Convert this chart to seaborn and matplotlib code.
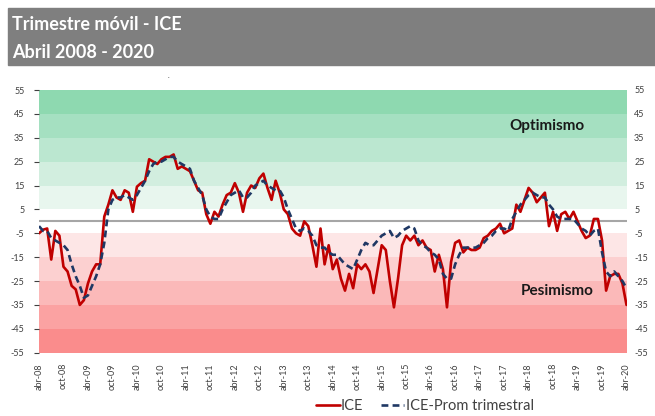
import matplotlib
matplotlib.use("Agg")
import matplotlib.pyplot as plt
from matplotlib.patches import Rectangle
import numpy as np
import pandas as pd
import seaborn as sns

# ---------------- data ----------------
tick_labels = ["abr-08", "oct-08", "abr-09", "oct-09", "abr-10", "oct-10", "abr-11",
               "oct-11", "abr-12", "oct-12", "abr-13", "oct-13", "abr-14", "oct-14",
               "abr-15", "oct-15", "abr-16", "oct-16", "abr-17", "oct-17", "abr-18",
               "oct-18", "abr-19", "oct-19", "abr-20"]

ice = [-5, -3.5, -3, -16, -4, -6, -19, -21, -27, -28.5,
       -35, -33, -26, -21, -18, -18, 2, 7, 13, 10,
       9, 13, 12, 4, 14.5, 16, 17, 26, 25, 24,
       26, 27, 27, 28, 22, 23, 22, 21, 17, 13,
       12, 3, -1, 4, 2, 7, 11, 12, 16, 12,
       4, 12, 15, 14, 18, 20, 14, 9, 17, 12,
       5, 3, -3, -5, -6, 0, -2, -10, -19, -3,
       -18, -10, -20, -16, -24, -29, -22, -28, -18, -20,
       -18, -21, -30, -20, -10, -12, -25, -36, -24, -10,
       -6, -8, -6, -10, -8, -11, -12, -21, -14, -20,
       -36, -17, -9, -8, -13, -11, -12, -12, -11, -7,
       -6, -4, -3, -1, -5, -4, -3, 7, 4, 9,
       14, 12, 8, 10, 12, -2, 4, -4, 3, 4,
       1, 4, 0, -4, -7, -6, 1, 1, -8, -29,
       -23, -22, -22, -26, -35]

ice_prom = [-2, -4, -4, -7, -8, -9, -10, -12, -18, -23,
            -27, -32, -31, -27, -23, -18, -9, 5, 9, 10,
            10, 11, 10, 9, 11, 14, 17, 21, 24, 25,
            25, 26, 27, 27, 25, 24, 23, 22, 17, 14,
            11, 5, 2, 1, 1, 5, 8, 11, 12, 13,
            10, 10, 12, 15, 16, 17, 15, 14, 13, 13,
            10, 5, 1, -3, -4, -3, -4, -6, -10, -11,
            -11, -13, -14, -14, -16, -18, -19, -20, -16, -12,
            -9, -10, -10, -8, -6, -5, -4, -7, -6, -4,
            -3, -2, -3, -8, -10, -11, -13, -14, -16, -22,
            -24, -24, -18, -14, -11, -11, -11, -11, -10, -9,
            -7, -6, -4, -3, -3, -4, 1, 4, 7, 9,
            11, 12, 11, 10, 10, 7, 5, 2, 1, 1,
            1, 1, -1, -3, -4, -6, -4, -3, -13, -21,
            -23, -21, -23, -25, -28]

y_ticks = [-55, -45, -35, -25, -15, -5, 5, 15, 25, 35, 45, 55]
band_edges = [-55, -45, -35, -25, -15, -5, 5, 15, 25, 35, 45, 55]
band_colors = ["#FA8C8C", "#FBA2A2", "#FBB9B9", "#FCD0D0", "#FDE6E6",
               "#FFFFFF",
               "#E8F6EE", "#D2EEDF", "#BBE7D0", "#A5E0C1", "#8ED9B0"]

# ---------------- style ----------------
sns.set_style("white")
plt.rcParams['font.family'] = ['Lato', 'DejaVu Sans']

W, H = 655, 416
fig = plt.figure(figsize=(W / 100, H / 100), dpi=100)

# header band
fig.patches.append(Rectangle((8 / W, 1 - 65 / H), (W - 8) / W, 57 / H,
                             transform=fig.transFigure, color="#7F7F7F", zorder=0))
fig.text(12 / W, 1 - 24 / H, "Trimestre móvil - ICE", color="white",
         fontsize=13, fontweight="bold", va="center", ha="left")
fig.text(12 / W, 1 - 52 / H, "Abril 2008 - 2020", color="white",
         fontsize=13, fontweight="bold", va="center", ha="left")
fig.text(168 / W, 1 - 75 / H, ".", color="#404040", fontsize=5, ha="center", va="center")

ax = fig.add_axes([39 / W, 1 - 352.7 / H, 587.5 / W, 262.7 / H])

for i in range(len(band_colors)):
    ax.axhspan(band_edges[i], band_edges[i + 1], color=band_colors[i], lw=0, zorder=0)
ax.axhline(0, color="#A6A6A6", lw=1.5, zorder=1)

n = len(ice)
df = pd.DataFrame({"mes": np.arange(n), "ICE": ice, "ICE-Prom trimestral": ice_prom})

sns.lineplot(data=df, x="mes", y="ICE", ax=ax, color="#C00000", lw=1.9,
             label="ICE", zorder=3, solid_joinstyle="round")
sns.lineplot(data=df, x="mes", y="ICE-Prom trimestral", ax=ax, color="#1F3864",
             lw=1.9, label="ICE-Prom trimestral", zorder=4)
ax.lines[-1].set_dashes([2.6, 1.6])

ax.set_xlim(0, n - 1)
ax.set_ylim(-55, 55)
ax.set_yticks(y_ticks)
ax.set_yticklabels([str(v) for v in y_ticks])
ax.set_xticks(np.arange(0, n, 6))
ax.set_xticklabels(tick_labels, rotation=90)
ax.set_xlabel("")
ax.set_ylabel("")
for s in ax.spines.values():
    s.set_visible(False)
ax.tick_params(axis="y", left=False, right=False, labelleft=True, labelright=False,
               labelsize=6.5, colors="#404040", pad=7)
ax.tick_params(axis="x", bottom=False, labelsize=6.5, colors="#404040", pad=4)

# right-side duplicate axis labels
ax2 = ax.twinx()
ax2.set_ylim(-55, 55)
ax2.set_yticks(y_ticks)
ax2.set_yticklabels([str(v) for v in y_ticks])
ax2.tick_params(axis="y", right=False, left=False, labelsize=6.5, colors="#404040", pad=2)
for s in ax2.spines.values():
    s.set_visible(False)
ax2.grid(False)

ax.text(124.4, 40, "Optimismo", fontsize=11, fontweight="bold", color="#1A1A1A",
        ha="center", va="center", zorder=5)
ax.text(127, -29, "Pesimismo", fontsize=11, fontweight="bold", color="#1A1A1A",
        ha="center", va="center", zorder=5)

ax.get_legend().remove()
h, l = ax.get_legend_handles_labels()
fig.legend(h, l, loc="center", bbox_to_anchor=(425 / W, 1 - 406 / H), ncol=2,
           frameon=False, fontsize=10.5, handlelength=1.6, columnspacing=1.2,
           handletextpad=0.1, labelcolor="#404040")

fig.savefig("out.png", dpi=100)
